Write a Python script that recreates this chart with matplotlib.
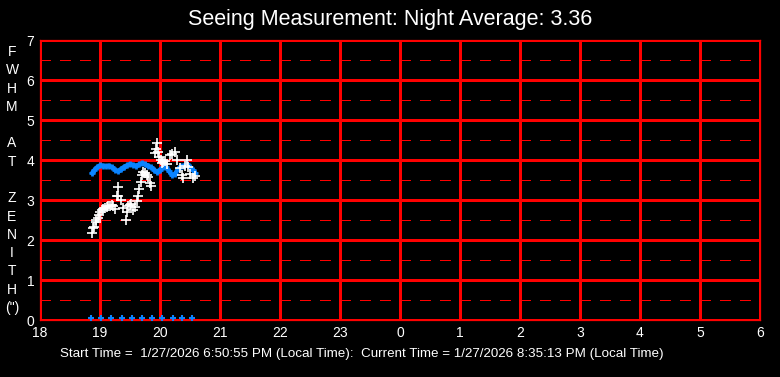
import numpy as np
import matplotlib.pyplot as plt

plt.rcParams['lines.scale_dashes'] = False

# ------ data (hours after midnight shifted: 24 -> 0) ------
fwhm_hours = [18.87, 18.89, 18.905, 18.925, 18.94, 18.96, 18.98, 19.0, 19.03, 19.055,
              19.08, 19.11, 19.14, 19.17, 19.2, 19.22, 19.25, 19.28, 19.30, 19.305,
              19.35, 19.39, 19.43, 19.445, 19.47, 19.5, 19.52, 19.555, 19.58, 19.61,
              19.63, 19.65, 19.68, 19.695, 19.72, 19.75, 19.78, 19.805, 19.83, 19.85,
              19.92, 19.93, 19.945, 19.97, 19.99, 20.01, 20.03, 20.05, 20.08, 20.12,
              20.17, 20.2, 20.25, 20.28, 20.33, 20.36, 20.39, 20.42, 20.445, 20.47,
              20.5, 20.55, 20.58]
fwhm_values = [2.17, 2.3, 2.33, 2.45, 2.5, 2.55, 2.62, 2.71, 2.76, 2.78,
               2.8, 2.82, 2.84, 2.85, 2.87, 2.86, 2.77, 3.1, 3.1, 3.33,
               3.0, 2.8, 2.5, 2.7, 2.85, 2.87, 2.9, 2.75, 2.83, 2.97,
               3.1, 3.27, 3.44, 3.63, 3.7, 3.67, 3.62, 3.58, 3.42, 3.35,
               4.17, 4.27, 4.43, 4.2, 4.08, 4.0, 3.92, 3.95, 3.98, 3.9,
               4.12, 4.15, 4.2, 4.0, 3.8, 3.62, 3.55, 3.85, 4.0, 3.83,
               3.65, 3.55, 3.6]

avg_hours = [18.87, 18.9, 18.95, 19.0, 19.05, 19.1, 19.15, 19.2, 19.25, 19.3,
             19.35, 19.4, 19.45, 19.5, 19.55, 19.6, 19.65, 19.7, 19.75, 19.8,
             19.85, 19.9, 19.95, 20.0, 20.05, 20.1, 20.15, 20.2, 20.25, 20.3,
             20.35, 20.4, 20.45, 20.5, 20.55, 20.58]
avg_values = [3.68, 3.74, 3.82, 3.87, 3.86, 3.84, 3.86, 3.82, 3.76, 3.72,
              3.78, 3.83, 3.87, 3.9, 3.88, 3.86, 3.89, 3.92, 3.9, 3.86,
              3.82, 3.76, 3.71, 3.76, 3.82, 3.82, 3.72, 3.62, 3.66, 3.78,
              3.84, 3.86, 3.9, 3.82, 3.74, 3.68]

sample_hours = [18.85, 19.02, 19.19, 19.37, 19.54, 19.70, 19.87, 20.04, 20.21, 20.37, 20.54]
sample_values = [0.06] * len(sample_hours)

x_ticks = list(range(18, 31))
x_labels = [str(h % 24) for h in x_ticks]

# ------ plot ------
RED = '#ff0000'
BLUE = '#0a84ff'
fig = plt.figure(figsize=(7.8, 3.77), dpi=100, facecolor='black')
ax = fig.add_axes([40/780, 57/377, 720/780, 280/377], facecolor='black')

grid_kw = dict(color=RED, lw=0.75, antialiased=False, zorder=1)
for h in x_ticks:
    ax.axvline(h, **grid_kw)
for v in range(0, 8):
    ax.axhline(v, **grid_kw)
for v in np.arange(0.5, 7, 1.0):
    ax.axhline(v, dashes=(7.6, 6.8), **grid_kw)

ax.plot(avg_hours, avg_values, color=BLUE, lw=3, marker='+', ms=5, mew=2, zorder=3)
ax.plot(fwhm_hours, fwhm_values, ls='none', color='white', marker='+', ms=7, mew=1.2, zorder=4)
ax.plot(sample_hours, sample_values, ls='none', color=BLUE, marker='+', ms=5, mew=1.5, zorder=4)

ax.set_xlim(18, 30)
ax.set_ylim(0, 7)
ax.set_xticks(x_ticks)
ax.set_xticklabels(x_labels)
ax.set_yticks(range(0, 8))
ax.tick_params(colors='white', length=0, labelsize=10, pad=4)
for lab in ax.get_xticklabels() + ax.get_yticklabels():
    lab.set_fontfamily('Liberation Sans')
for s in ax.spines.values():
    s.set_color(RED)
    s.set_linewidth(0.9)

fig.text(0.5, 1 - 20/377, 'Seeing Measurement: Night Average: 3.36', color='white',
         ha='center', va='center', fontsize=15.5, family='Liberation Sans')
fig.text(12/780, 1 - 180/377, 'F\nW\nH\nM\n\nA\nT\n\nZ\nE\nN\nI\nT\nH\n(")', color='white',
         ha='center', va='center', fontsize=10, linespacing=1.39, family='Liberation Sans')
fig.text(362/780, 1 - 354/377,
         'Start Time =  1/27/2026 6:50:55 PM (Local Time):  Current Time = 1/27/2026 8:35:13 PM (Local Time)',
         color='white', ha='center', va='center', fontsize=9.6, family='Liberation Sans')

fig.savefig('out.png', dpi=100, facecolor='black')
